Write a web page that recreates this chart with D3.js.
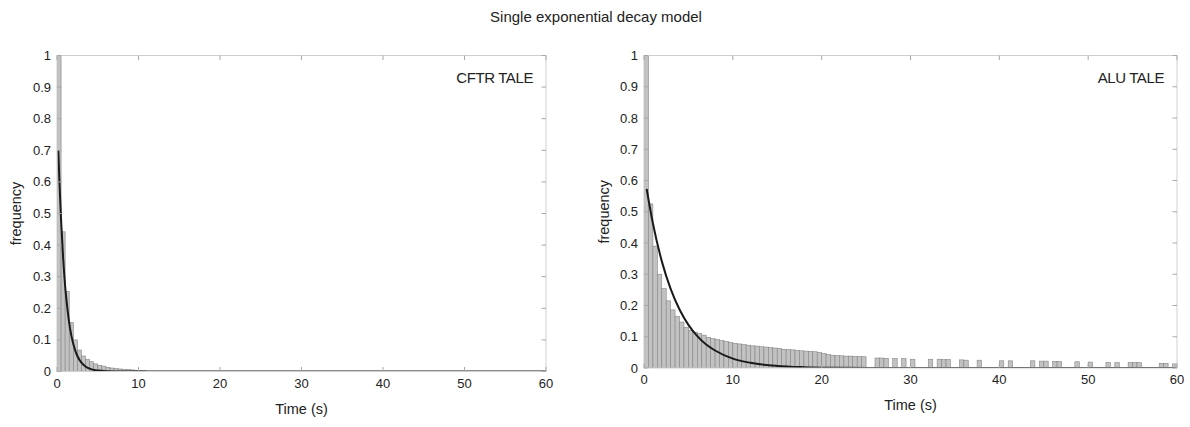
<!DOCTYPE html>
<html>
<head>
<meta charset="utf-8">
<script src="https://cdn.jsdelivr.net/npm/d3@7"></script>
<style>
    body { margin: 0; background: #fff; }
    svg text { font-family: "Liberation Sans", Arial, Helvetica, sans-serif; fill: #222; }
</style>
</head>
<body>
<div id="chart"></div>
<script>
// ---- data ----
const binWidth = 0.5;
const xTicks = [0, 10, 20, 30, 40, 50, 60];
const yTicks = [0, 0.1, 0.2, 0.3, 0.4, 0.5, 0.6, 0.7, 0.8, 0.9, 1];
const yTickLabels = ["0", "0.1", "0.2", "0.3", "0.4", "0.5", "0.6", "0.7", "0.8", "0.9", "1"];

// CFTR TALE histogram, bins of 0.5 s starting at 0
const cftrFreq = [1.3, 0.442, 0.253, 0.155, 0.100, 0.068, 0.049, 0.0385, 0.031, 0.024,
    0.0195, 0.017, 0.013, 0.011, 0.009, 0.008, 0.007, 0.006, 0.005, 0.004, 0.003, 0.002];

// ALU TALE histogram, contiguous bins 0-25 s
const aluFreq = [1.3, 0.525, 0.39, 0.30, 0.254, 0.215, 0.186, 0.165, 0.147, 0.13,
    0.12, 0.115, 0.11, 0.105, 0.098, 0.094, 0.091, 0.088, 0.085, 0.082,
    0.079, 0.077, 0.075, 0.073, 0.071, 0.070, 0.068, 0.067, 0.065, 0.064,
    0.062, 0.060, 0.059, 0.058, 0.056, 0.055, 0.054, 0.053, 0.052, 0.050,
    0.046, 0.043, 0.041, 0.040, 0.039, 0.038, 0.038, 0.037, 0.037, 0.036];
// ALU TALE sparse tail bins (left edge, s)
const aluTailStart = [26, 26.5, 27, 28, 29, 30, 32, 33, 33.5, 34, 35.5, 36, 37.5, 40, 41,
    43.5, 44.5, 45, 46, 46.5, 48.5, 50, 52, 53, 54.5, 55, 55.5, 58, 58.5, 59.5];
const aluTailFreq = [0.032, 0.032, 0.031, 0.030, 0.030, 0.028, 0.028, 0.028, 0.027, 0.027,
    0.026, 0.025, 0.025, 0.023, 0.023, 0.023, 0.022, 0.022, 0.021, 0.021,
    0.020, 0.019, 0.018, 0.017, 0.018, 0.018, 0.017, 0.015, 0.015, 0.013];

// fitted decay curves
const cftrFitTime = [0.16, 0.3, 0.5, 0.75, 1, 1.25, 1.5, 1.75, 2, 2.5, 3, 3.5, 4, 5, 6, 8, 60];
const cftrFitFreq = [0.70, 0.60, 0.48, 0.36, 0.27, 0.205, 0.153, 0.115, 0.087, 0.049, 0.028, 0.016, 0.009, 0.003, 0.001, 0, 0];
const aluFitTime = [0.3, 1, 2, 3, 4, 5, 6, 7, 8, 10, 12, 15, 18, 22, 27, 60];
const aluFitFreq = [0.573, 0.463, 0.342, 0.253, 0.187, 0.138, 0.102, 0.075, 0.056, 0.030, 0.0165, 0.0067, 0.0027, 0.0008, 0, 0];

class DecayPanel {
    constructor(svg, opts) {
        this.svg = svg;
        this.opts = opts;
        this.initVis();
    }

    initVis() {
        let vis = this;
        const o = vis.opts;

        vis.xScale = d3.scaleLinear().domain([0, 60]).range([o.left, o.right]);
        vis.yScale = d3.scaleLinear().domain([0, 1]).range([o.bottom, o.top]);

        vis.g = vis.svg.append("g").attr("class", "panel-" + o.id);

        vis.g.append("clipPath").attr("id", "clip-" + o.id)
            .append("rect")
            .attr("x", o.left).attr("y", o.top)
            .attr("width", o.right - o.left).attr("height", o.bottom - o.top);

        vis.wrangleData();
    }

    wrangleData() {
        let vis = this;
        vis.bins = [];
        vis.opts.binStart.forEach((s, i) => {
            if (vis.opts.freq[i] > 0) vis.bins.push({ x0: s, x1: s + binWidth, v: vis.opts.freq[i] });
        });
        vis.fit = vis.opts.fitTime.map((t, i) => ({ t: t, v: vis.opts.fitFreq[i] }));
        vis.updateVis();
    }

    updateVis() {
        let vis = this;
        const o = vis.opts;
        const plot = vis.g.append("g").attr("clip-path", `url(#clip-${o.id})`);

        // histogram bars
        plot.selectAll("rect.bar")
            .data(vis.bins)
            .enter()
            .append("rect")
            .attr("class", "bar")
            .attr("x", d => vis.xScale(d.x0))
            .attr("y", d => vis.yScale(d.v))
            .attr("width", d => vis.xScale(d.x1) - vis.xScale(d.x0))
            .attr("height", d => vis.yScale(0) - vis.yScale(d.v))
            .attr("fill", "#c2c2c2")
            .attr("stroke", "#858585")
            .attr("stroke-width", 0.6);

        // box and mirrored ticks (MATLAB style, pointing inwards)
        const box = vis.g.append("g").attr("class", "box");
        box.append("rect")
            .attr("x", o.left).attr("y", o.top)
            .attr("width", o.right - o.left).attr("height", o.bottom - o.top)
            .attr("fill", "none").attr("stroke", "#cfcfcf").attr("stroke-width", 1);

        const tl = 4.5;
        box.selectAll(".xt-b").data(xTicks).enter().append("line")
            .attr("x1", d => vis.xScale(d)).attr("x2", d => vis.xScale(d))
            .attr("y1", o.bottom).attr("y2", o.bottom - tl)
            .attr("stroke", "#a8a8a8");
        box.selectAll(".xt-t").data(xTicks).enter().append("line")
            .attr("x1", d => vis.xScale(d)).attr("x2", d => vis.xScale(d))
            .attr("y1", o.top).attr("y2", o.top + tl)
            .attr("stroke", "#a8a8a8");
        box.selectAll(".yt-l").data(yTicks).enter().append("line")
            .attr("x1", o.left).attr("x2", o.left + tl)
            .attr("y1", d => vis.yScale(d)).attr("y2", d => vis.yScale(d))
            .attr("stroke", "#a8a8a8");
        box.selectAll(".yt-r").data(yTicks).enter().append("line")
            .attr("x1", o.right).attr("x2", o.right - tl)
            .attr("y1", d => vis.yScale(d)).attr("y2", d => vis.yScale(d))
            .attr("stroke", "#a8a8a8");

        // fitted curve
        const line = d3.line()
            .x(d => vis.xScale(d.t))
            .y(d => vis.yScale(d.v))
            .curve(d3.curveMonotoneX);
        plot.append("path")
            .datum(vis.fit)
            .attr("d", line)
            .attr("fill", "none")
            .attr("stroke", "#1a1a1a")
            .attr("stroke-width", 2);

        // tick labels
        vis.g.selectAll(".xlab").data(xTicks).enter().append("text")
            .attr("x", d => vis.xScale(d))
            .attr("y", o.bottom + 16)
            .attr("text-anchor", "middle")
            .attr("font-size", 13)
            .text(d => d);
        vis.g.selectAll(".ylab").data(yTicks).enter().append("text")
            .attr("x", o.left - 6)
            .attr("y", d => vis.yScale(d) + 4.5)
            .attr("text-anchor", "end")
            .attr("font-size", 13)
            .text((d, i) => yTickLabels[i]);

        // axis titles and panel label
        vis.g.append("text")
            .attr("x", (o.left + o.right) / 2)
            .attr("y", o.bottom + 42)
            .attr("text-anchor", "middle")
            .attr("font-size", 14.5)
            .text("Time (s)");
        vis.g.append("text")
            .attr("transform", `translate(${o.ylabelX},${(o.top + o.bottom) / 2}) rotate(-90)`)
            .attr("text-anchor", "middle")
            .attr("font-size", 14.5)
            .text("frequency");
        vis.g.append("text")
            .attr("x", o.right - 13)
            .attr("y", o.top + 27)
            .attr("text-anchor", "end")
            .attr("font-size", 15)
            .attr("letter-spacing", -0.4)
            .text(o.label);
    }
}

const svg = d3.select("#chart").append("svg")
    .attr("width", 1190)
    .attr("height", 427);

svg.append("text")
    .attr("x", 596)
    .attr("y", 22)
    .attr("text-anchor", "middle")
    .attr("font-size", 15)
    .text("Single exponential decay model");

new DecayPanel(svg, {
    id: "cftr", label: "CFTR TALE",
    left: 57, right: 546, top: 55.5, bottom: 371.5, ylabelX: 21,
    binStart: cftrFreq.map((d, i) => i * binWidth), freq: cftrFreq,
    fitTime: cftrFitTime, fitFreq: cftrFitFreq
});

new DecayPanel(svg, {
    id: "alu", label: "ALU TALE",
    left: 644, right: 1177, top: 55.5, bottom: 368, ylabelX: 609,
    binStart: aluFreq.map((d, i) => i * binWidth).concat(aluTailStart),
    freq: aluFreq.concat(aluTailFreq),
    fitTime: aluFitTime, fitFreq: aluFitFreq
});
</script>
</body>
</html>
